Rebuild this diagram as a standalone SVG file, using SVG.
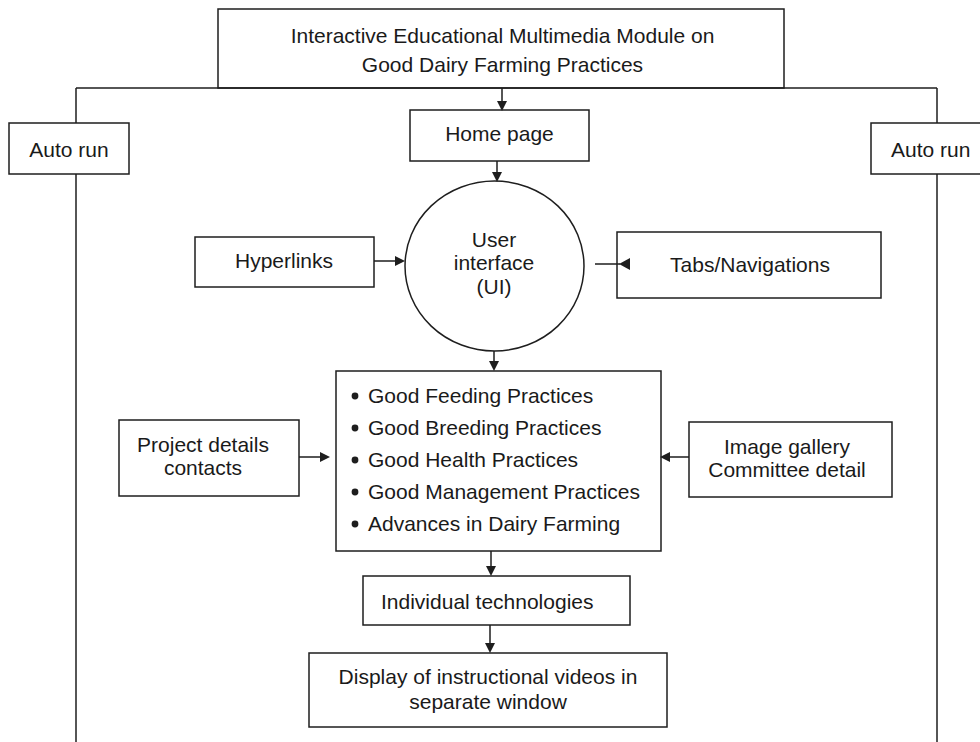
<svg xmlns="http://www.w3.org/2000/svg" width="980" height="742" viewBox="0 0 980 742">
  <style>
    .box { fill: #fff; stroke: #1e1e1e; stroke-width: 1.5; }
    .ln { fill: none; stroke: #1e1e1e; stroke-width: 1.5; }
    .hd { fill: #1e1e1e; stroke: none; }
    text { font-family: "Liberation Sans", Arial, sans-serif; font-size: 21px; fill: #1a1a1a; }
    .c { text-anchor: middle; }
  </style>
  <rect width="980" height="742" fill="#fff"/>

  <g id="title">
    <rect class="box" x="218" y="9" width="566" height="79"/>
    <text class="c" x="502.5" y="43">Interactive Educational Multimedia Module on</text>
    <text class="c" x="502.5" y="72">Good Dairy Farming Practices</text>
  </g>

  <g id="autorun-left">
    <rect class="box" x="9" y="123" width="120" height="51"/>
    <text class="c" x="69" y="157">Auto run</text>
  </g>

  <g id="autorun-right">
    <rect class="box" x="871" y="123" width="120" height="51"/>
    <text x="891" y="157">Auto run</text>
  </g>

  <g id="home">
    <rect class="box" x="410" y="110" width="179" height="51"/>
    <text class="c" x="499.5" y="141">Home page</text>
  </g>

  <g id="ui">
    <ellipse class="box" cx="494.5" cy="266" rx="89.5" ry="85"/>
    <text class="c" x="494" y="247">User</text>
    <text class="c" x="494" y="270">interface</text>
    <text class="c" x="494" y="294">(UI)</text>
  </g>

  <g id="hyperlinks">
    <rect class="box" x="195" y="237" width="179" height="50"/>
    <text class="c" x="284" y="268">Hyperlinks</text>
  </g>

  <g id="tabs">
    <rect class="box" x="617" y="232" width="264" height="66"/>
    <text class="c" x="750" y="272">Tabs/Navigations</text>
  </g>

  <g id="practices">
    <rect class="box" x="336" y="371" width="325" height="180"/>
    <circle class="hd" cx="355" cy="396" r="3.4"/>
    <text x="368" y="403">Good Feeding Practices</text>
    <circle class="hd" cx="355" cy="428" r="3.4"/>
    <text x="368" y="435">Good Breeding Practices</text>
    <circle class="hd" cx="355" cy="460" r="3.4"/>
    <text x="368" y="467">Good Health Practices</text>
    <circle class="hd" cx="355" cy="492" r="3.4"/>
    <text x="368" y="499">Good Management Practices</text>
    <circle class="hd" cx="355" cy="524" r="3.4"/>
    <text x="368" y="531">Advances in Dairy Farming</text>
  </g>

  <g id="project">
    <rect class="box" x="119" y="420" width="180" height="76"/>
    <text class="c" x="203" y="452">Project details</text>
    <text class="c" x="203" y="475">contacts</text>
  </g>

  <g id="gallery">
    <rect class="box" x="689" y="422" width="203" height="75"/>
    <text class="c" x="787" y="454">Image gallery</text>
    <text class="c" x="787" y="477">Committee detail</text>
  </g>

  <g id="technologies">
    <rect class="box" x="363" y="576" width="267" height="49"/>
    <text x="381" y="609">Individual technologies</text>
  </g>

  <g id="display">
    <rect class="box" x="309" y="653" width="358" height="74"/>
    <text class="c" x="488" y="684">Display of instructional videos in</text>
    <text class="c" x="488" y="709">separate window</text>
  </g>

  <g id="connectors">
    <!-- outer frame: top rail and the two side rails, broken at the Auto run boxes -->
    <line class="ln" x1="76" y1="88" x2="937" y2="88"/>
    <line class="ln" x1="76" y1="88" x2="76" y2="123"/>
    <line class="ln" x1="76" y1="174" x2="76" y2="742"/>
    <line class="ln" x1="937" y1="88" x2="937" y2="123"/>
    <line class="ln" x1="937" y1="174" x2="937" y2="742"/>
    <!-- title to home page -->
    <line class="ln" x1="502" y1="88" x2="502" y2="104"/>
    <polygon class="hd" points="497,101 507,101 502,111"/>
    <!-- home page to UI -->
    <line class="ln" x1="497" y1="161" x2="497" y2="175"/>
    <polygon class="hd" points="492,172 502,172 497,182"/>
    <!-- hyperlinks to UI -->
    <line class="ln" x1="374" y1="261" x2="398" y2="261"/>
    <polygon class="hd" points="395,256 395,266 405,261"/>
    <!-- tabs/navigations toward UI -->
    <line class="ln" x1="595" y1="264" x2="620" y2="264"/>
    <polygon class="hd" points="630,258 630,270 619,264"/>
    <!-- UI to practices list -->
    <line class="ln" x1="494" y1="351" x2="494" y2="364"/>
    <polygon class="hd" points="489,361 499,361 494,371"/>
    <!-- project details to list -->
    <line class="ln" x1="299" y1="457" x2="322" y2="457"/>
    <polygon class="hd" points="320,452 320,462 330,457"/>
    <!-- image gallery to list -->
    <line class="ln" x1="689" y1="457" x2="668" y2="457"/>
    <polygon class="hd" points="670,452 670,462 660,457"/>
    <!-- list to individual technologies -->
    <line class="ln" x1="491" y1="551" x2="491" y2="569"/>
    <polygon class="hd" points="486,566 496,566 491,576"/>
    <!-- individual technologies to display -->
    <line class="ln" x1="490" y1="625" x2="490" y2="646"/>
    <polygon class="hd" points="485,643 495,643 490,653"/>
  </g>
</svg>
